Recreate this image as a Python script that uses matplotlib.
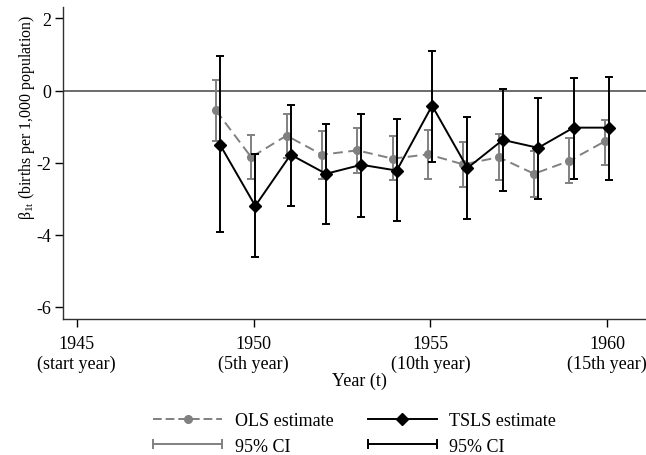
import numpy as np
import matplotlib
matplotlib.use("Agg")
import matplotlib.pyplot as plt
from matplotlib.lines import Line2D
from matplotlib.legend_handler import HandlerLine2D

plt.rcParams['font.family'] = ['Liberation Serif', 'DejaVu Serif']
plt.rcParams['mathtext.fontset'] = 'custom'
plt.rcParams['mathtext.rm'] = 'Liberation Serif'
plt.rcParams['mathtext.it'] = 'Liberation Serif'

# data
years = np.arange(1949, 1961)
ols_est = [-0.55, -1.85, -1.25, -1.78, -1.66, -1.89, -1.77, -2.05, -1.85, -2.31, -1.95, -1.41]
ols_hi = [0.30, -1.23, -0.66, -1.12, -1.04, -1.26, -1.09, -1.44, -1.22, -1.67, -1.33, -0.81]
ols_lo = [-1.41, -2.46, -1.87, -2.46, -2.28, -2.49, -2.45, -2.69, -2.47, -2.95, -2.57, -2.06]
tsls_est = [-1.50, -3.20, -1.78, -2.31, -2.06, -2.22, -0.42, -2.15, -1.37, -1.59, -1.03, -1.03]
tsls_hi = [0.95, -1.77, -0.39, -0.92, -0.66, -0.79, 1.10, -0.74, 0.05, -0.20, 0.34, 0.37]
tsls_lo = [-3.92, -4.62, -3.21, -3.71, -3.50, -3.62, -1.99, -3.56, -2.78, -3.00, -2.45, -2.47]

xtick_pos = [1945, 1950, 1955, 1960]
xtick_labels = ["1945\n(start year)", "1950\n(5th year)", "1955\n(10th year)", "1960\n(15th year)"]

grey = "#808080"
fs = 13

fig = plt.figure(figsize=(6.46, 4.56), dpi=100)
ax = fig.add_axes([0.098, 0.298, 0.902, 0.684])

ax.axhline(0, color="#606060", lw=1.3, zorder=1)

x_ols = years - 0.065
x_tsls = years + 0.05
ols_est = np.array(ols_est)
tsls_est = np.array(tsls_est)

ax.errorbar(x_ols, ols_est,
            yerr=[ols_est - np.array(ols_lo), np.array(ols_hi) - ols_est],
            fmt="none", ecolor=grey, elinewidth=1.4, capsize=2.9, capthick=1.4, zorder=2)
ax.plot(x_ols, ols_est, color=grey, ls=(0, (5, 2.8)), lw=1.4, marker="o", ms=5.5, zorder=3)

ax.errorbar(x_tsls, tsls_est,
            yerr=[tsls_est - np.array(tsls_lo), np.array(tsls_hi) - tsls_est],
            fmt="none", ecolor="black", elinewidth=1.4, capsize=3, capthick=1.4, zorder=4)
ax.plot(x_tsls, tsls_est, color="black", lw=1.4, marker="D", ms=6.2, zorder=5)

ax.set_xlim(1944.62, 1961.1)
ax.set_ylim(-6.34, 2.31)
ax.set_yticks([-6, -4, -2, 0, 2])
ax.set_yticklabels(["-6", "-4", "-2", "0", "2"])
ax.set_xticks(xtick_pos)
ax.set_xticklabels(xtick_labels, fontsize=fs, linespacing=1.17)
ax.tick_params(axis="both", direction="out", length=5.5, width=1, colors="black", labelsize=fs)
ax.tick_params(axis="x", pad=6)
ax.tick_params(axis="y", pad=3)
for s in ["top", "right"]:
    ax.spines[s].set_visible(False)
for s in ["left", "bottom"]:
    ax.spines[s].set_linewidth(1)
    ax.spines[s].set_color("#303030")

ax.set_xlabel("Year (t)", fontsize=fs)
ax.xaxis.set_label_coords(0.509, -0.17)
ax.set_ylabel(r"β$_{\mathrm{1t}}$ (births per 1,000 population)", fontsize=11.4)
ax.yaxis.set_label_coords(-0.045, 0.651)

h_ols = Line2D([], [], color=grey, ls=(0, (4.5, 2)), lw=1.4, marker="o", ms=5.5)
h_tsls = Line2D([], [], color="black", lw=1.4, marker="D", ms=6.2)
h_ci_ols = Line2D([], [], color=grey, lw=1.4, marker="|", ms=7, mew=1.4)
h_ci_tsls = Line2D([], [], color="black", lw=1.4, marker="|", ms=7, mew=1.4)

fig.legend([h_ols, h_ci_ols, h_tsls, h_ci_tsls],
           ["OLS estimate", "95% CI", "TSLS estimate", "95% CI"],
           ncol=2, loc="upper left", bbox_to_anchor=(0.2373, 0.094),
           frameon=False, fontsize=fs, handlelength=3.83, handletextpad=0.68,
           columnspacing=1.9, labelspacing=0.47, borderaxespad=0, borderpad=0,
           handler_map={h_ci_ols: HandlerLine2D(numpoints=2, marker_pad=0),
                        h_ci_tsls: HandlerLine2D(numpoints=2, marker_pad=0)})

fig.savefig("out.png", dpi=100)
